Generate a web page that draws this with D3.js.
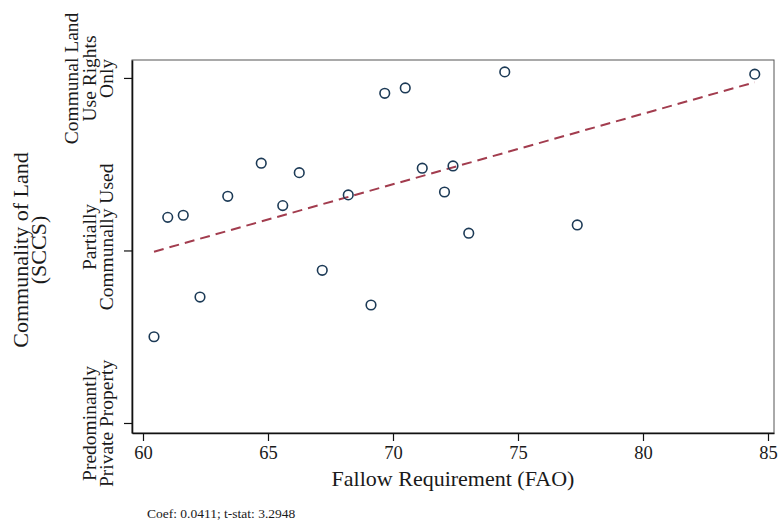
<!DOCTYPE html>
<html>
<head>
<meta charset="utf-8">
<script src="https://cdn.jsdelivr.net/npm/d3@7"></script>
<style>
  html, body { margin: 0; padding: 0; background: #fff; }
  svg { display: block; }
  text { font-family: "Liberation Serif", "Times New Roman", serif; fill: #1a1a1a; }
</style>
</head>
<body>
<svg id="chart" width="779" height="525"></svg>
<script>
// ---- Data ----
const fallow = [60.44, 60.99, 61.61, 62.28, 63.39, 64.73, 65.59, 66.25, 67.17, 68.21,
                69.12, 69.67, 70.49, 71.17, 72.06, 72.40, 73.03, 74.47, 77.37, 84.47];
const communality = [1.500, 2.192, 2.204, 1.730, 2.314, 2.506, 2.260, 2.451, 1.885, 2.322,
                     1.684, 2.911, 2.942, 2.477, 2.339, 2.490, 2.100, 3.035, 2.148, 3.022];
const fitX = [60.44, 84.47];
const fitY = [1.993, 2.975];
const xTicks = [60, 65, 70, 75, 80, 85];
const yTickValues = [1, 2, 3];
const yTickLabels = [
  ["Predominantly", "Private Property"],
  ["Partially", "Communally Used"],
  ["Communal Land", "Use Rights", "Only"]
];
const xTitle = "Fallow Requirement (FAO)";
const yTitle = ["Communality of Land", "(SCCS)"];
const note = "Coef: 0.0411; t-stat: 3.2948";

// ---- Layout ----
const svg = d3.select("#chart");
const L = 132, R = 774, T = 60, B = 433;

const x = d3.scaleLinear().domain([59.56, 85.24]).range([L, R]);
const y = d3.scaleLinear().domain([0.942, 3.104]).range([B, T]);

// frame
svg.append("rect")
  .attr("x", L).attr("y", T).attr("width", R - L).attr("height", B - T)
  .attr("fill", "#fff").attr("stroke", "#555").attr("stroke-width", 1);

// x axis
const xAxis = svg.append("g")
  .attr("transform", `translate(0,${B})`)
  .call(d3.axisBottom(x).tickValues(xTicks).tickSize(8).tickSizeOuter(0).tickFormat(d3.format("d")));
xAxis.select(".domain").attr("stroke", "#111").attr("stroke-width", 1.6);
xAxis.selectAll(".tick line").attr("stroke", "#111").attr("stroke-width", 1.2);
xAxis.selectAll(".tick text")
  .attr("y", 26).attr("dy", null)
  .style("font-size", "18.5px").style("font-family", "Liberation Serif, serif").attr("fill", "#1a1a1a");

// y axis
const yAxis = svg.append("g")
  .attr("transform", `translate(${L},0)`)
  .call(d3.axisLeft(y).tickValues(yTickValues).tickSize(8).tickSizeOuter(0).tickFormat(""));
yAxis.select(".domain").attr("stroke", "#111").attr("stroke-width", 1.6);
yAxis.selectAll(".tick line").attr("stroke", "#111").attr("stroke-width", 1.2);
yAxis.selectAll(".tick text").remove();
const lineGap = 17.5;
const labelNudge = v => (v === 2 ? -14 : 0);   // middle label sits slightly above its tick in the reference
yAxis.selectAll(".tick").each(function(d, i) {
  const lines = yTickLabels[yTickValues.indexOf(d)];
  const lastBase = -19;
  const firstBase = lastBase - (lines.length - 1) * lineGap;
  const t = d3.select(this).append("text")
    .attr("transform", `translate(${firstBase},${labelNudge(d)}) rotate(-90)`)
    .attr("text-anchor", "middle")
    .style("font-size", "19.5px").attr("fill", "#1a1a1a");
  lines.forEach((ln, k) => {
    t.append("tspan").attr("x", 0).attr("dy", k === 0 ? 0 : lineGap).text(ln);
  });
});

// fit line
svg.append("line")
  .attr("x1", x(fitX[0])).attr("y1", y(fitY[0]))
  .attr("x2", x(fitX[1])).attr("y2", y(fitY[1]))
  .attr("stroke", "#a23c4e").attr("stroke-width", 2)
  .attr("stroke-dasharray", "10,6");

// points
svg.append("g").selectAll("circle")
  .data(fallow.map((v, i) => [v, communality[i]]))
  .join("circle")
  .attr("cx", d => x(d[0])).attr("cy", d => y(d[1]))
  .attr("r", 4.8)
  .attr("fill", "none").attr("stroke", "#1c3a56").attr("stroke-width", 1.6);

// x title
svg.append("text")
  .attr("x", (L + R) / 2).attr("y", 486)
  .attr("text-anchor", "middle")
  .style("font-size", "22px").text(xTitle);

// y title
const yt = svg.append("text")
  .attr("transform", `translate(28,250) rotate(-90)`)
  .attr("text-anchor", "middle")
  .style("font-size", "22px");
yTitle.forEach((ln, k) => {
  yt.append("tspan").attr("x", 0).attr("dy", k === 0 ? 0 : 18).text(ln);
});

// note
svg.append("text")
  .attr("x", 147).attr("y", 518)
  .style("font-size", "13.5px").text(note);
</script>
</body>
</html>
